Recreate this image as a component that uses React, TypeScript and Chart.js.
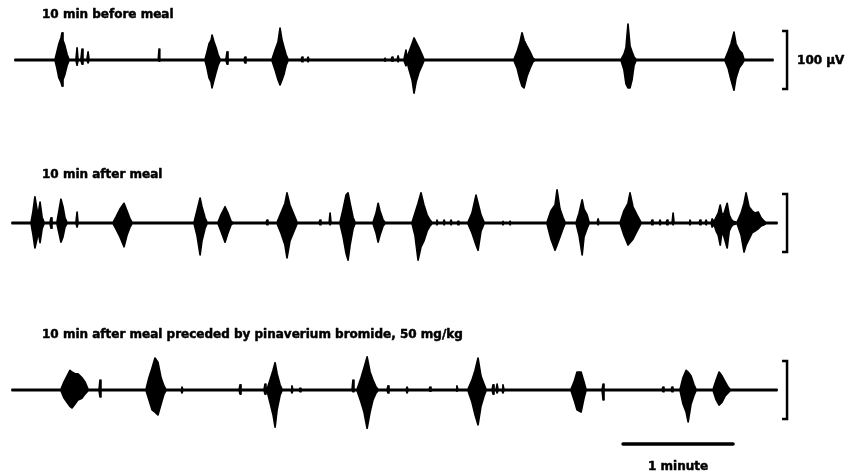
import React, { useEffect, useRef } from "react";
import { Chart, registerables } from "chart.js";

Chart.register(...registerables);

type Row = [number, number, number]; // [time s, upper envelope µV, lower envelope µV]

const TRACE_LABELS = [
  "10 min before meal",
  "10 min after meal",
  "10 min after meal preceded by pinaverium bromide, 50 mg/kg",
];
const SCALE_LABEL = "100 µV";
const SCALE_UV = 100;
const TIME_LABEL = "1 minute";
const TIME_BAR_START_S = 333.3;
const TIME_BAR_LENGTH_S = 60;

const BEFORE_MEAL: Row[] = [
  [1.6, 1, -1],
  [23.5, 1, -1], [24.5, 14, -14], [25.6, 28, -31], [26.7, 38, -38], [27.3, 47, -45], [27.8, 34, -34], [28.9, 24, -24], [30.0, 10, -10], [31.1, 1, -1],
  [34.9, 1, -1], [35.5, 21, -9], [36.0, 1, -1],
  [37.6, 1, -1], [38.2, 19, -7], [38.7, 1, -1],
  [40.9, 1, -1], [41.5, 14, -5], [42.0, 1, -1],
  [79.8, 1, -1], [80.2, 19, -2], [80.6, 1, -1],
  [105.3, 1, -1], [106.4, 14, -14], [107.5, 28, -31], [108.6, 34, -38], [109.1, 43, -48], [110.2, 31, -34], [111.3, 21, -21], [112.4, 9, -9], [113.5, 1, -1],
  [116.7, 1, -1], [117.3, 14, -7], [117.8, 1, -1],
  [126.6, 1, -1], [127.1, 5, -5], [127.6, 1, -1],
  [141.8, 1, -1], [143.5, 17, -17], [145.1, 31, -34], [146.2, 55, -43], [147.3, 34, -34], [148.4, 21, -24], [149.5, 9, -9], [150.6, 1, -1],
  [157.7, 1, -1], [158.2, 5, -3], [158.7, 1, -1],
  [161.0, 1, -1], [161.5, 5, -3], [162.0, 1, -1],
  [203.0, 1, -1], [203.5, 3, -2], [204.0, 1, -1],
  [206.8, 1, -1], [207.3, 5, -2], [207.8, 1, -1],
  [210.1, 1, -1], [210.6, 7, -3], [211.1, 1, -1],
  [213.8, 1, -1], [214.9, 17, -10], [215.5, 3, -3], [216.6, 14, -17], [218.2, 28, -34], [219.3, 38, -57], [220.4, 31, -38], [222.0, 21, -21], [223.7, 9, -9], [224.7, 1, -1],
  [273.8, 1, -1], [275.5, 14, -14], [277.1, 31, -34], [278.2, 47, -45], [279.3, 34, -48], [280.9, 24, -28], [282.6, 14, -14], [284.2, 3, -3], [285.3, 1, -1],
  [332.2, 1, -1], [333.8, 10, -17], [334.9, 21, -41], [336.0, 62, -48], [337.1, 24, -48], [338.2, 14, -34], [339.3, 5, -9], [340.4, 1, -1],
  [388.9, 1, -1], [390.6, 14, -14], [392.2, 28, -34], [393.8, 48, -52], [394.9, 28, -31], [396.6, 17, -14], [398.2, 12, -7], [399.3, 1, -1],
  [415.1, 1, -1],
];

const AFTER_MEAL: Row[] = [
  [0, 1, -1],
  [10.4, 1, -1], [11.5, 21, -21], [12.5, 45, -43], [13.6, 24, -28], [14.2, 14, -14], [15.3, 36, -34], [16.4, 10, -10], [17.5, 1, -1],
  [20.7, 1, -1], [21.3, 9, -9], [21.8, 1, -1],
  [24.5, 1, -1], [25.6, 21, -17], [26.7, 41, -33], [27.8, 28, -24], [28.9, 9, -7], [30.0, 1, -1],
  [34.9, 1, -1], [35.5, 19, -7], [36.0, 1, -1],
  [55.1, 1, -1], [56.7, 10, -10], [58.9, 24, -24], [61.1, 34, -41], [62.7, 21, -21], [64.4, 7, -7], [65.5, 1, -1],
  [99.3, 1, -1], [100.9, 21, -21], [102.6, 43, -55], [103.6, 28, -31], [105.3, 9, -9], [106.4, 1, -1],
  [112.4, 1, -1], [114.0, 14, -14], [116.2, 28, -33], [117.8, 17, -17], [119.5, 3, -3], [120.6, 1, -1],
  [138.6, 1, -1], [139.1, 5, -3], [139.6, 1, -1],
  [144.6, 1, -1], [146.7, 17, -17], [148.9, 34, -38], [150.0, 52, -60], [151.6, 31, -31], [153.8, 14, -14], [155.5, 1, -1],
  [167.5, 1, -1], [168.0, 5, -3], [168.5, 1, -1],
  [173.0, 1, -1], [173.5, 17, -3], [174.0, 1, -1],
  [178.9, 1, -1], [180.6, 24, -24], [182.2, 48, -52], [183.3, 52, -64], [184.4, 34, -38], [186.0, 10, -10], [187.1, 1, -1],
  [196.9, 1, -1], [198.6, 17, -17], [199.7, 34, -33], [200.7, 21, -21], [202.4, 5, -5], [203.5, 1, -1],
  [218.2, 1, -1], [219.8, 17, -21], [221.5, 34, -64], [223.1, 52, -41], [224.7, 31, -31], [226.4, 14, -14], [228.0, 5, -5], [229.1, 1, -1],
  [231.3, 1, -1], [231.8, 5, -3], [232.3, 1, -1],
  [235.2, 1, -1], [235.7, 5, -3], [236.2, 1, -1],
  [239.0, 1, -1], [239.5, 5, -3], [240.0, 1, -1],
  [242.8, 1, -1], [243.3, 3, -3], [243.8, 1, -1],
  [248.7, 1, -1], [250.9, 17, -17], [253.1, 48, -38], [254.2, 34, -47], [255.8, 14, -14], [257.5, 1, -1],
  [267.3, 1, -1], [267.8, 3, -3], [268.3, 1, -1],
  [271.2, 1, -1], [271.7, 3, -3], [272.2, 1, -1],
  [291.8, 1, -1], [294.0, 21, -28], [296.2, 31, -47], [297.3, 57, -38], [298.9, 24, -24], [300.6, 9, -9], [301.7, 1, -1],
  [307.7, 1, -1], [309.3, 17, -21], [311.0, 40, -55], [312.0, 24, -24], [313.7, 14, -9], [314.8, 1, -1],
  [319.2, 1, -1], [319.7, 7, -3], [320.2, 1, -1],
  [331.7, 1, -1], [333.8, 21, -21], [336.0, 34, -38], [337.1, 52, -34], [338.7, 28, -28], [340.9, 14, -14], [343.1, 1, -1],
  [348.6, 1, -1], [349.1, 5, -3], [349.6, 1, -1],
  [353.0, 1, -1], [353.5, 5, -3], [354.0, 1, -1],
  [356.8, 1, -1], [357.3, 5, -3], [357.8, 1, -1],
  [360.1, 1, -1], [360.6, 17, -3], [361.1, 1, -1],
  [369.3, 1, -1], [369.8, 5, -3], [370.3, 1, -1],
  [374.8, 1, -1], [375.3, 5, -3], [375.8, 1, -1],
  [378.1, 1, -1], [378.6, 5, -3], [379.1, 1, -1],
  [381.4, 1, -1], [381.9, 7, -7], [383.0, 3, -3], [384.1, 10, -14], [385.2, 17, -21], [386.3, 31, -38], [387.3, 14, -14], [388.4, 17, -24], [390.1, 34, -43], [391.2, 14, -14], [392.2, 7, -7], [393.3, 3, -3],
  [395.5, 1, -1], [397.7, 17, -21], [399.3, 34, -50], [400.4, 52, -38], [402.0, 28, -28], [403.7, 21, -17], [405.3, 17, -14], [407.0, 19, -10], [408.6, 9, -5], [410.3, 3, -3], [411.4, 1, -1],
  [417.3, 1, -1],
];

const AFTER_PINAVERIUM: Row[] = [
  [0, 1, -1],
  [26.7, 1, -1], [28.4, 14, -14], [30.0, 24, -21], [31.6, 34, -28], [32.7, 31, -31], [34.4, 28, -24], [36.0, 28, -17], [38.2, 21, -14], [39.8, 14, -7], [41.5, 1, -1],
  [47.5, 1, -1], [48.0, 17, -12], [48.5, 1, -1],
  [73.1, 1, -1], [74.7, 21, -17], [76.4, 38, -34], [78.0, 55, -38], [79.6, 48, -43], [81.3, 21, -24], [82.9, 7, -7], [84.0, 1, -1],
  [92.2, 1, -1], [92.7, 5, -5], [93.2, 1, -1],
  [123.9, 1, -1], [124.4, 9, -7], [124.9, 1, -1],
  [137.5, 1, -1], [138.0, 10, -7], [138.5, 1, -1],
  [139.1, 1, -1], [140.7, 17, -21], [142.4, 34, -43], [143.5, 47, -64], [144.6, 28, -34], [146.2, 9, -9], [147.3, 1, -1],
  [152.2, 1, -1], [152.7, 7, -5], [153.2, 1, -1],
  [156.6, 1, -1], [157.1, 3, -3], [157.6, 1, -1],
  [185.5, 1, -1], [186.0, 17, -3], [186.5, 1, -1],
  [188.2, 1, -1], [190.4, 21, -21], [192.0, 38, -38], [193.7, 57, -66], [195.3, 31, -38], [196.9, 17, -17], [198.6, 5, -5], [199.7, 1, -1],
  [204.6, 1, -1], [205.1, 7, -5], [205.6, 1, -1],
  [215.0, 1, -1], [215.5, 5, -5], [216.0, 1, -1],
  [227.5, 1, -1], [228.0, 5, -2], [228.5, 1, -1],
  [242.2, 1, -1], [242.7, 7, -2], [243.2, 1, -1],
  [248.7, 1, -1], [250.9, 17, -21], [252.6, 34, -43], [254.2, 55, -60], [255.8, 24, -28], [257.5, 10, -10], [258.6, 1, -1],
  [261.9, 1, -1], [262.4, 9, -7], [262.9, 1, -1],
  [264.1, 1, -1], [264.6, 10, -5], [265.1, 1, -1],
  [267.3, 1, -1], [267.8, 9, -5], [268.3, 1, -1],
  [304.9, 1, -1], [306.6, 14, -17], [308.2, 31, -34], [310.4, 31, -38], [312.0, 14, -14], [313.1, 1, -1],
  [321.9, 1, -1], [322.4, 10, -17], [322.9, 1, -1],
  [354.6, 1, -1], [355.1, 5, -3], [355.6, 1, -1],
  [359.5, 1, -1], [360.0, 5, -3], [360.5, 1, -1],
  [364.4, 1, -1], [366.0, 21, -24], [367.7, 34, -38], [368.8, 31, -55], [370.4, 24, -24], [372.0, 9, -9], [373.1, 1, -1],
  [382.4, 1, -1], [384.1, 17, -17], [385.7, 31, -26], [387.3, 24, -21], [389.0, 14, -10], [390.6, 5, -5], [391.7, 1, -1],
  [417.3, 1, -1],
];

const TRACE_DATA: Row[][] = [BEFORE_MEAL, AFTER_MEAL, AFTER_PINAVERIUM];

// ---- layout (pixels) ----
const W = 848;
const H = 475;
const TRACE_START_PX = 12;
const PX_PER_MINUTE = 110;
const PX_PER_100UV = 58;
const BASELINE_PX = [60, 223, 390];
const LABEL_X = 42;
const LABEL_ABOVE_PX = [45, 48, 55];
const TIME_BAR_BELOW_PX = 54;
const INK = "#000";
const FONT = '"DejaVu Sans", "Liberation Sans", sans-serif';

const S_PER_PX = 60 / PX_PER_MINUTE;
const UV_PER_PX = 100 / PX_PER_100UV;

function heavyText(ctx: CanvasRenderingContext2D, text: string, x: number, y: number) {
  ctx.lineWidth = 0.5;
  ctx.lineJoin = "round";
  ctx.fillText(text, x, y);
  ctx.strokeText(text, x, y);
}

const decorations = {
  id: "emgDecorations",
  afterDraw(chart: any) {
    const ctx = chart.ctx as CanvasRenderingContext2D;
    const xs = chart.scales.x;
    const lastT = Math.max(...TRACE_DATA.map((d) => d[d.length - 1][0]));
    const bx = xs.getPixelForValue(lastT) + 10;
    ctx.save();
    ctx.fillStyle = INK;
    ctx.strokeStyle = INK;
    TRACE_DATA.forEach((_, i) => {
      const ys = chart.scales["y" + i];
      const base = ys.getPixelForValue(0);
      ctx.font = "bold 12px " + FONT;
      ctx.textAlign = "left";
      ctx.textBaseline = "middle";
      heavyText(ctx, TRACE_LABELS[i], LABEL_X, base - LABEL_ABOVE_PX[i]);
      const top = ys.getPixelForValue(SCALE_UV / 2);
      const bot = ys.getPixelForValue(-SCALE_UV / 2);
      ctx.lineWidth = 2.5;
      ctx.lineJoin = "miter";
      ctx.beginPath();
      ctx.moveTo(bx - 5, top);
      ctx.lineTo(bx, top);
      ctx.lineTo(bx, bot);
      ctx.lineTo(bx - 5, bot);
      ctx.stroke();
      if (i === 0) {
        ctx.font = "bold 12px " + FONT;
        heavyText(ctx, SCALE_LABEL, bx + 10, base + 1);
      }
    });
    const y3 = chart.scales["y2"];
    const barY = y3.getPixelForValue(0) + TIME_BAR_BELOW_PX;
    const x0 = xs.getPixelForValue(TIME_BAR_START_S);
    const x1 = xs.getPixelForValue(TIME_BAR_START_S + TIME_BAR_LENGTH_S);
    ctx.lineWidth = 3.5;
    ctx.lineCap = "round";
    ctx.beginPath();
    ctx.moveTo(x0, barY);
    ctx.lineTo(x1, barY);
    ctx.stroke();
    ctx.font = "bold 12px " + FONT;
    ctx.textAlign = "center";
    ctx.textBaseline = "middle";
    heavyText(ctx, TIME_LABEL, (x0 + x1) / 2, barY + 23);
    ctx.restore();
  },
};

export default function App() {
  const ref = useRef<HTMLCanvasElement | null>(null);
  useEffect(() => {
    if (!ref.current) return;
    const datasets: any[] = [];
    const scales: any = {
      x: {
        type: "linear",
        display: false,
        min: -TRACE_START_PX * S_PER_PX,
        max: (W - TRACE_START_PX) * S_PER_PX,
      },
    };
    TRACE_DATA.forEach((rows, i) => {
      const id = "y" + i;
      scales[id] = {
        type: "linear",
        display: false,
        min: (BASELINE_PX[i] - H) * UV_PER_PX,
        max: BASELINE_PX[i] * UV_PER_PX,
      };
      const common = {
        yAxisID: id,
        borderColor: INK,
        backgroundColor: INK,
        borderWidth: 1.7,
        borderJoinStyle: "round",
        borderCapStyle: "round",
        pointRadius: 0,
        tension: 0,
      };
      datasets.push({
        ...common,
        label: TRACE_LABELS[i] + " (upper)",
        data: rows.map((r) => ({ x: r[0], y: r[1] })),
        fill: false,
      });
      datasets.push({
        ...common,
        label: TRACE_LABELS[i] + " (lower)",
        data: rows.map((r) => ({ x: r[0], y: r[2] })),
        fill: "-1",
      });
    });
    const chart = new Chart(ref.current, {
      type: "line",
      data: { datasets },
      options: {
        animation: false,
        responsive: true,
        maintainAspectRatio: false,
        layout: { padding: 0 },
        plugins: { legend: { display: false }, tooltip: { enabled: false }, title: { display: false } },
        scales,
      },
      plugins: [decorations],
    });
    return () => chart.destroy();
  }, []);
  return (
    <div style={{ position: "absolute", left: 0, top: 0, width: W, height: H, background: "#fff" }}>
      <canvas ref={ref} />
    </div>
  );
}
